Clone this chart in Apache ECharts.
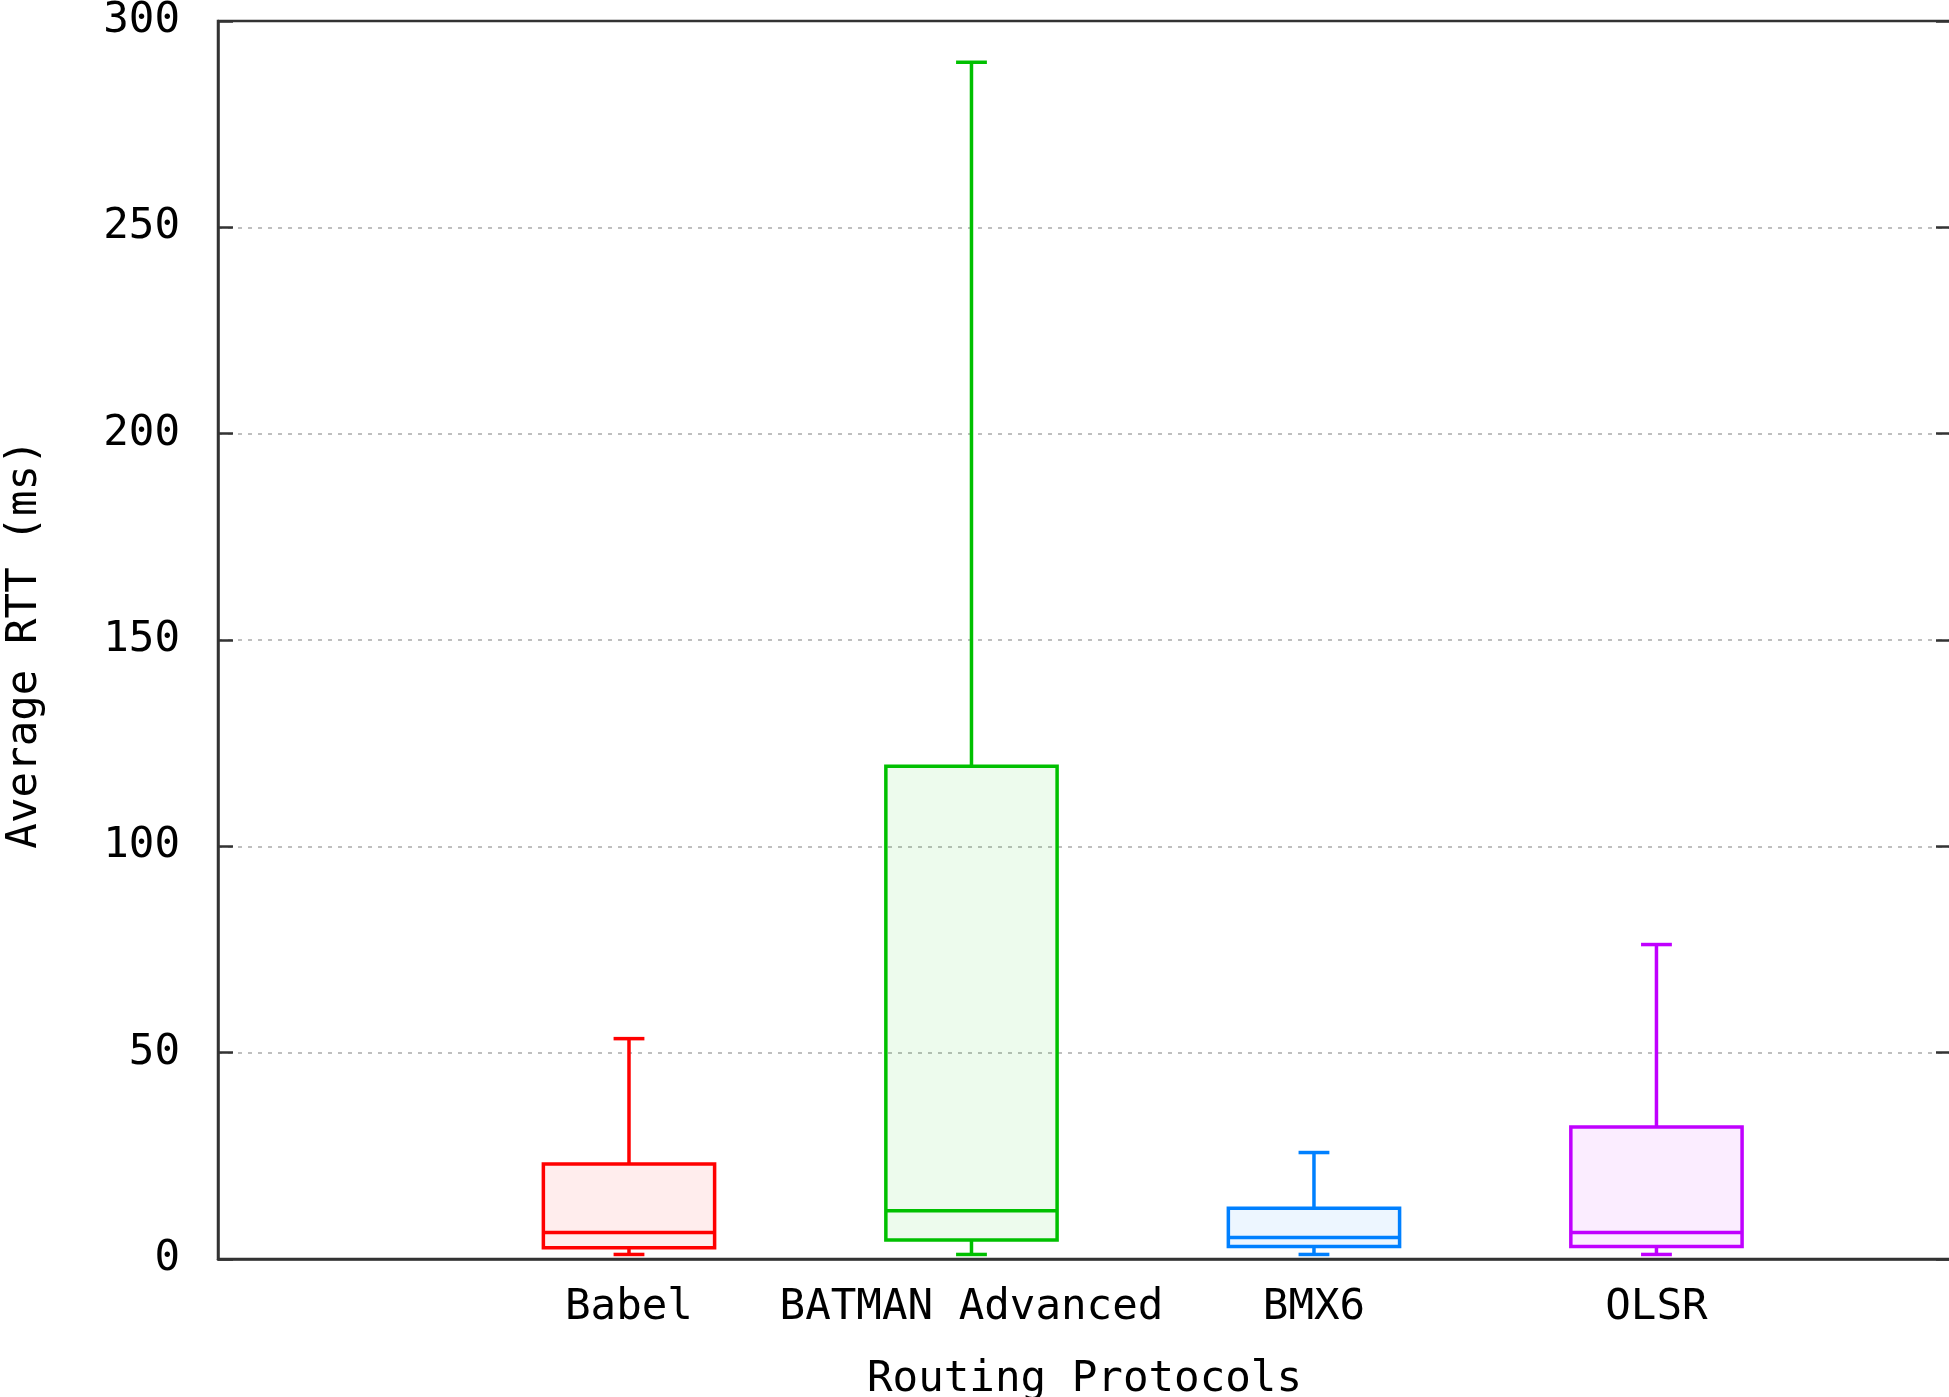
<!DOCTYPE html>
<html>
<head>
<meta charset="utf-8">
<title>Average RTT by Routing Protocol</title>
<script src="https://cdn.jsdelivr.net/npm/echarts@6/dist/echarts.min.js"></script>
<style>
  html, body { margin: 0; padding: 0; background: #ffffff; }
  #chart { width: 1949px; height: 1397px; }
</style>
</head>
<body>
<div id="chart"></div>
<script>
// Box-plot statistics of average RTT (ms) per routing protocol
const protocols = ['Babel', 'BATMAN Advanced', 'BMX6', 'OLSR'];
const whiskerLow = [1.1, 1.1, 1.1, 1.1];
const quartile1 = [2.7, 4.6, 3.0, 3.0];
const medians = [6.4, 11.7, 5.2, 6.4];
const quartile3 = [23.0, 119.4, 12.3, 32.0];
const whiskerHigh = [53.4, 290.0, 25.8, 76.2];
const yTicks = [0, 50, 100, 150, 200, 250, 300];

const boxColors = ['#ff0000', '#00c000', '#0080ff', '#c000ff'];
const FONT = "'DejaVu Sans Mono', monospace";
const FONT_SIZE = 42.5;
const BOX_WIDTH = 0.5;   // in x-axis units
const CAP_WIDTH = 0.09;  // whisker cap width, x-axis units
const MARK_LINE = 3.5;

const boxData = protocols.map((name, i) => [
  i + 1, whiskerLow[i], quartile1[i], medians[i], quartile3[i], whiskerHigh[i]
]);

function renderBox(params, api) {
  const x = api.value(0);
  const color = boxColors[params.dataIndex];
  const pLow = api.coord([x, api.value(1)]);
  const pQ1 = api.coord([x, api.value(2)]);
  const pMed = api.coord([x, api.value(3)]);
  const pQ3 = api.coord([x, api.value(4)]);
  const pHigh = api.coord([x, api.value(5)]);
  const half = api.size([BOX_WIDTH, 0])[0] / 2;
  const capHalf = api.size([CAP_WIDTH, 0])[0] / 2;
  const cx = pMed[0];
  const line = (x1, y1, x2, y2) => ({
    type: 'line',
    shape: { x1, y1, x2, y2 },
    style: { stroke: color, lineWidth: MARK_LINE, fill: null }
  });
  return {
    type: 'group',
    children: [
      {
        type: 'rect',
        shape: { x: cx - half, y: pQ3[1], width: half * 2, height: pQ1[1] - pQ3[1] },
        style: { fill: echarts.color.modifyAlpha(color, 0.07), stroke: color, lineWidth: MARK_LINE }
      },
      line(cx - half, pMed[1], cx + half, pMed[1]),
      line(cx, pQ3[1], cx, pHigh[1]),
      line(cx - capHalf, pHigh[1], cx + capHalf, pHigh[1]),
      line(cx, pQ1[1], cx, pLow[1]),
      line(cx - capHalf, pLow[1], cx + capHalf, pLow[1])
    ]
  };
}

const chart = echarts.init(document.getElementById('chart'), null, { renderer: 'canvas' });

const axisLineStyle = { color: '#333333', width: 2.5 };

chart.setOption({
  animation: false,
  backgroundColor: '#ffffff',
  grid: {
    left: 218, top: 21, right: -2, bottom: 138,
    outerBoundsMode: 'none',
    containLabel: false,
    show: true, borderColor: '#333333', borderWidth: 2.5, backgroundColor: 'transparent'
  },
  xAxis: {
    type: 'value',
    min: -0.2,
    max: 4.86,
    name: 'Routing Protocols',
    nameLocation: 'middle',
    nameGap: 121,
    nameTextStyle: { fontFamily: FONT, fontSize: FONT_SIZE, color: '#000000', verticalAlign: 'middle' },
    axisLine: { show: true, onZero: false, lineStyle: axisLineStyle },
    axisTick: { show: false },
    splitLine: { show: false },
    axisLabel: {
      customValues: protocols.map((_, i) => i + 1),
      formatter: v => protocols[Math.round(v) - 1] || '',
      fontFamily: FONT, fontSize: FONT_SIZE, color: '#000000',
      margin: 49, verticalAlign: 'middle'
    }
  },
  yAxis: [
    {
      type: 'value',
      min: yTicks[0],
      max: yTicks[yTicks.length - 1],
      interval: yTicks[1] - yTicks[0],
      name: 'Average RTT (ms)',
      nameLocation: 'middle',
      nameRotate: 90,
      nameGap: 193,
      nameTextStyle: {
        fontFamily: FONT, fontSize: FONT_SIZE, color: '#000000',
        verticalAlign: 'middle', padding: [0, 8, 0, 0]
      },
      axisLine: { show: true, onZero: false, lineStyle: axisLineStyle },
      axisTick: { show: true, inside: true, length: 15, lineStyle: axisLineStyle },
      axisLabel: { fontFamily: FONT, fontSize: FONT_SIZE, color: '#000000', margin: 38 },
      splitLine: {
        show: true, showMinLine: false, showMaxLine: false,
        lineStyle: { color: '#aaaaaa', width: 1.5, type: [4, 6] }
      }
    },
    {
      type: 'value',
      position: 'right',
      min: yTicks[0],
      max: yTicks[yTicks.length - 1],
      interval: yTicks[1] - yTicks[0],
      axisLine: { show: true, onZero: false, lineStyle: axisLineStyle },
      axisTick: { show: true, inside: true, length: 15, lineStyle: axisLineStyle },
      axisLabel: { show: false },
      splitLine: { show: false }
    }
  ],
  series: [{
    type: 'custom',
    name: 'Average RTT',
    renderItem: renderBox,
    encode: { x: 0, y: [1, 2, 3, 4, 5] },
    data: boxData,
    clip: false
  }]
});
</script>
</body>
</html>
